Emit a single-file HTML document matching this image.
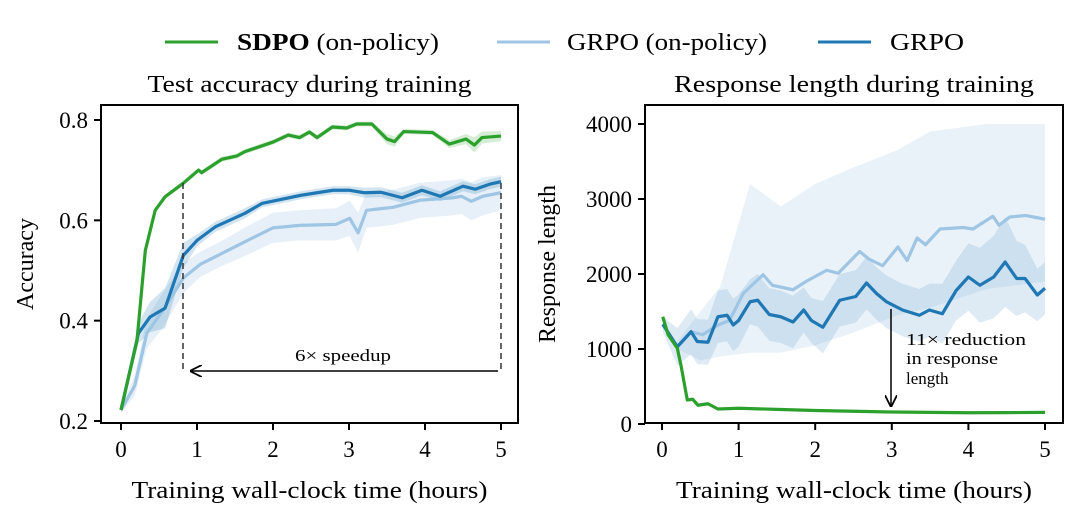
<!DOCTYPE html>
<html><head><meta charset="utf-8"><style>
body{margin:0;background:#fff;width:1080px;height:513px;overflow:hidden}
svg{display:block;font-family:"Liberation Serif",serif}
</style></head><body>
<svg id="c" width="1080" height="513"></svg>
<script>
// ---- Left panel data (hours, accuracy)
const sdpoAccT=[0,0.21,0.32,0.45,0.58,0.82,1.02,1.06,1.33,1.52,1.63,2.0,2.2,2.35,2.48,2.58,2.78,2.97,3.1,3.3,3.5,3.6,3.72,4.1,4.32,4.54,4.65,4.75,5.0];
const sdpoAccV=[0.222,0.36,0.54,0.62,0.647,0.674,0.70,0.695,0.722,0.728,0.737,0.756,0.77,0.765,0.776,0.765,0.786,0.784,0.792,0.792,0.762,0.757,0.777,0.775,0.752,0.762,0.75,0.765,0.768];
const grpoAccT=[0,0.23,0.38,0.58,0.82,1.0,1.24,1.63,1.86,2.37,2.79,3.0,3.2,3.42,3.7,3.96,4.2,4.5,4.66,4.85,5.0];
const grpoAccV=[0.222,0.375,0.407,0.425,0.53,0.56,0.587,0.614,0.634,0.65,0.66,0.66,0.655,0.656,0.645,0.66,0.648,0.668,0.662,0.672,0.677];
const grpoOnAccT=[0,0.18,0.34,0.55,0.82,1.04,1.34,1.6,2.0,2.35,2.83,3.01,3.12,3.23,3.58,3.93,4.37,4.48,4.61,4.76,5.0];
const grpoOnAccV=[0.222,0.27,0.375,0.42,0.485,0.512,0.535,0.555,0.585,0.59,0.592,0.604,0.575,0.62,0.626,0.64,0.645,0.648,0.638,0.648,0.655];
const grpoOnAccBand=[0.005,0.02,0.03,0.035,0.03,0.025,0.025,0.028,0.03,0.03,0.032,0.035,0.04,0.035,0.035,0.035,0.035,0.035,0.038,0.038,0.035];
const grpoAccBand=[0.005,0.02,0.03,0.04,0.025,0.012,0.01,0.01,0.008,0.008,0.008,0.008,0.01,0.01,0.01,0.01,0.01,0.01,0.01,0.01,0.01];
const sdpoAccBand=[0.003,0.005,0.005,0.005,0.005,0.005,0.005,0.005,0.005,0.005,0.005,0.005,0.005,0.005,0.005,0.005,0.005,0.005,0.005,0.005,0.01,0.01,0.005,0.005,0.008,0.01,0.015,0.012,0.01];
const accTicks=[0.2,0.4,0.6,0.8];
const hourTicks=[0,1,2,3,4,5];
// ---- Right panel data (hours, response length)
const sdpoLenT=[0.01,0.08,0.2,0.25,0.33,0.4,0.47,0.6,0.73,1,1.5,2,2.5,3,3.5,4,4.5,5];
const sdpoLenV=[1430,1190,1010,770,320,330,250,270,200,210,195,180,170,160,155,150,152,155];
const grpoLenT=[0.01,0.2,0.38,0.46,0.6,0.73,0.85,0.93,1.0,1.15,1.25,1.4,1.55,1.71,1.85,1.95,2.1,2.32,2.53,2.67,2.8,2.93,3.14,3.36,3.49,3.66,3.84,4.0,4.15,4.33,4.48,4.63,4.74,4.9,5.0];
const grpoLenV=[1330,1030,1230,1100,1090,1430,1450,1320,1380,1630,1650,1460,1430,1360,1520,1380,1290,1650,1700,1880,1740,1630,1520,1450,1520,1470,1780,1960,1850,1960,2160,1940,1940,1720,1810];
const grpoOnLenT=[0.01,0.2,0.38,0.53,0.73,0.88,1.06,1.32,1.44,1.71,1.88,2.15,2.3,2.58,2.7,2.88,3.08,3.2,3.33,3.44,3.63,3.93,4.06,4.32,4.4,4.54,4.75,5.0];
const grpoOnLenV=[1330,1030,1230,1190,1320,1380,1740,1990,1850,1790,1900,2050,2010,2300,2200,2110,2360,2180,2480,2390,2600,2620,2600,2770,2650,2760,2780,2730];
const onBandT=[0.2,0.5,0.76,1.15,1.55,2.0,2.45,3.07,3.5,4.24,5.0];
const onBandHi=[1100,1500,1830,3200,2900,3200,3400,3650,3900,4000,4000];
const onBandLo=[1000,850,900,950,950,1050,1200,1450,1550,1800,1900];
const grpoBandHalf=[100,250,300,300,300,350,350,350,350,300,350,350,350,350,300,300,350,350,350,350,350,350,350,350,350,400,400,450,500,550,600,500,450,350,350];
const lenTicks=[0,1000,2000,3000,4000];

const NS="http://www.w3.org/2000/svg";
const svg=document.getElementById('c');
function el(tag,attrs,parent){const e=document.createElementNS(NS,tag);for(const k in attrs)e.setAttribute(k,attrs[k]);(parent||svg).appendChild(e);return e;}
function txt(s,attrs,parent){const e=el('text',attrs,parent);e.textContent=s;return e;}

const L={x0:101,x1:518,y0:105,y1:423,sx:t=>121+t*76,sy:v=>421-(v-0.2)*(301/0.6)};
const R={x0:645,x1:1063,y0:105,y1:423,sx:t=>662+t*76.6,sy:v=>424-v*0.075};
const G='#2ca02c',DB='#1f77b4',LB='#9ec5e3';

function line(ax,T,V,color,name){const p=el('polyline',{points:T.map((t,i)=>ax.sx(t)+','+ax.sy(V[i])).join(' '),fill:'none',stroke:color,'stroke-width':3.2,'stroke-linejoin':'round'});

}
function band(ax,T,lo,hi,color,op,name){const pts=T.map((t,i)=>ax.sx(t)+','+ax.sy(hi[i])).concat(T.map((t,i)=>ax.sx(t)+','+ax.sy(lo[i])).reverse());const p=el('polygon',{points:pts.join(' '),fill:color,'fill-opacity':op});

}
function axes(ax,yt,fmt,ylabel,title,pfx){
  const g=el('g',{});
  
  
  el('rect',{x:ax.x0,y:ax.y0,width:ax.x1-ax.x0,height:ax.y1-ax.y0,fill:'none',stroke:'#000','stroke-width':2},g);
  hourTicks.forEach(t=>{const x=ax.sx(t);el('line',{x1:x,x2:x,y1:ax.y1,y2:ax.y1+7,stroke:'#000','stroke-width':2},g);
    const tt=txt(String(t),{x:x,y:ax.y1+34,'text-anchor':'middle','font-size':23},g);
    
    });
  yt.forEach(v=>{const y=ax.sy(v);el('line',{x1:ax.x0-7,x2:ax.x0,y1:y,y2:y,stroke:'#000','stroke-width':2},g);
    const tt=txt(fmt(v),{x:ax.x0-13,y:y+8,'text-anchor':'end','font-size':23},g);
    
    });
  const cx=(ax.x0+ax.x1)/2;
  const xl=txt('Training wall-clock time (hours)',{x:cx,y:498,'text-anchor':'middle','font-size':24,textLength:356,lengthAdjust:'spacingAndGlyphs'},g);
  
  
  const yl=txt(ylabel,{x:0,y:0,'text-anchor':'middle','font-size':24,transform:`translate(${ax.x0-(pfx==='left'?68:90)},${(ax.y0+ax.y1)/2}) rotate(-90)`},g);
  
  
  const ti=txt(title,{x:cx,y:92,'text-anchor':'middle','font-size':24,textLength:pfx==='left'?324:360,lengthAdjust:'spacingAndGlyphs'},g);
  
  
}
// left
band(L,grpoOnAccT,grpoOnAccV.map((v,i)=>v-grpoOnAccBand[i]),grpoOnAccV.map((v,i)=>v+grpoOnAccBand[i]),LB,0.25,'grpo-on-policy-accuracy-band');
band(L,grpoAccT,grpoAccV.map((v,i)=>v-grpoAccBand[i]),grpoAccV.map((v,i)=>v+grpoAccBand[i]),DB,0.2,'grpo-accuracy-band');
band(L,sdpoAccT,sdpoAccV.map((v,i)=>v-sdpoAccBand[i]),sdpoAccV.map((v,i)=>v+sdpoAccBand[i]),G,0.2,'sdpo-accuracy-band');
line(L,grpoOnAccT,grpoOnAccV,LB,'grpo-on-policy-accuracy-line');
line(L,grpoAccT,grpoAccV,DB,'grpo-accuracy-line');
line(L,sdpoAccT,sdpoAccV,G,'sdpo-accuracy-line');
axes(L,accTicks,v=>v.toFixed(1),'Accuracy','Test accuracy during training','left');
// right
band(R,onBandT,onBandLo,onBandHi,LB,0.22,'grpo-on-policy-length-band');
band(R,grpoLenT,grpoLenV.map((v,i)=>v-grpoBandHalf[i]),grpoLenV.map((v,i)=>v+grpoBandHalf[i]),DB,0.15,'grpo-length-band');
line(R,grpoOnLenT,grpoOnLenV,LB,'grpo-on-policy-length-line');
line(R,grpoLenT,grpoLenV,DB,'grpo-length-line');
line(R,sdpoLenT,sdpoLenV,G,'sdpo-length-line');
axes(R,lenTicks,v=>String(v),'Response length','Response length during training','right');
</script>
<svg style="position:absolute;left:0;top:0" width="1080" height="513">
  <defs><marker id="ah" viewBox="0 0 10 10" refX="9" refY="5" markerWidth="8" markerHeight="8" orient="auto-start-reverse"><path d="M0,0 L10,5 L0,10" fill="none" stroke="#000" stroke-width="1.5"/></marker></defs>
  <g font-family="Liberation Serif,serif">
    <line x1="183" y1="183" x2="183" y2="372" stroke="#333" stroke-width="1.5" stroke-dasharray="6,4"/>
    <line x1="501" y1="183" x2="501" y2="372" stroke="#333" stroke-width="1.5" stroke-dasharray="6,4"/>
    <line x1="498" y1="371" x2="191" y2="371" stroke="#000" stroke-width="1.5" marker-end="url(#ah)"/>
    <text x="343" y="361" text-anchor="middle" font-size="17" textLength="96" lengthAdjust="spacingAndGlyphs">6× speedup</text>
  </g>
  <g font-family="Liberation Serif,serif" font-size="17">
    <line x1="891" y1="309" x2="891" y2="406" stroke="#000" stroke-width="1.5" marker-end="url(#ah)"/>
    <text x="906" y="345" textLength="120" lengthAdjust="spacingAndGlyphs">11× reduction</text>
    <text x="906" y="364" textLength="92" lengthAdjust="spacingAndGlyphs">in response</text>
    <text x="906" y="384">length</text>
  </g>
  <g font-family="Liberation Serif,serif" font-size="24">
    <g><line x1="165" y1="42" x2="218" y2="42" stroke="#2ca02c" stroke-width="3"/><text x="237" y="50" textLength="202" lengthAdjust="spacingAndGlyphs"><tspan font-weight="bold">SDPO</tspan> (on-policy)</text></g>
    <g><line x1="497" y1="42" x2="550" y2="42" stroke="#9ec5e3" stroke-width="3"/><text x="567" y="50" textLength="200" lengthAdjust="spacingAndGlyphs">GRPO (on-policy)</text></g>
    <g><line x1="818" y1="42" x2="871" y2="42" stroke="#1f77b4" stroke-width="3"/><text x="890" y="50" textLength="74" lengthAdjust="spacingAndGlyphs">GRPO</text></g>
  </g>
</svg>
</body></html>
